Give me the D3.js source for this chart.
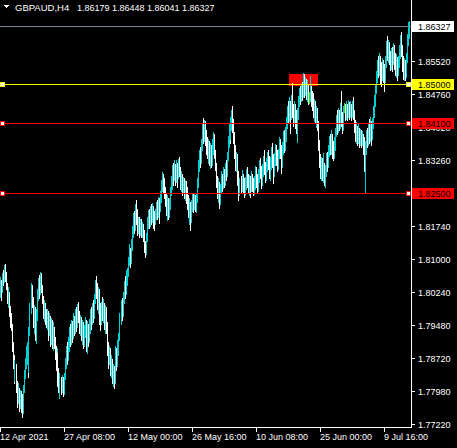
<!DOCTYPE html>
<html><head><meta charset="utf-8">
<script src="https://cdn.jsdelivr.net/npm/d3@7"></script>
<style>html,body{margin:0;padding:0;background:#000;overflow:hidden}svg{display:block}</style>
</head><body>
<svg id="c" width="457" height="448"></svg>
<script>
const symbolTitle = "GBPAUD,H4";
const titleOHLC = ["1.86179", "1.86448", "1.86041", "1.86327"];
const firstOpen = 1.8030;
const closes = [
1.8045,1.8030,1.8060,1.8052,1.8078,1.8062,1.8040,1.8010,1.8020,1.7985,
1.7960,1.7945,1.7900,1.7870,1.7835,1.7850,1.7810,1.7780,1.7795,1.7770,
1.7790,1.7765,1.7752,1.7800,1.7835,1.7860,1.7885,1.7895,1.7845,1.7930,
1.7985,1.8030,1.8000,1.7960,1.7985,1.7950,1.7975,1.8020,1.8040,1.8025,
1.8055,1.8035,1.8005,1.7980,1.7992,1.7965,1.7950,1.7975,1.7940,1.7960,
1.7935,1.7955,1.7920,1.7940,1.7905,1.7890,1.7860,1.7880,1.7835,1.7810,
1.7825,1.7805,1.7820,1.7800,1.7830,1.7860,1.7890,1.7875,1.7905,1.7930,
1.7915,1.7945,1.7930,1.7960,1.7940,1.7970,1.7955,1.7985,1.7970,1.7945,
1.7960,1.7930,1.7950,1.7915,1.7935,1.7955,1.7925,1.7945,1.7920,1.7950,
1.7975,1.7960,1.7990,1.7975,1.8010,1.8040,1.8025,1.8000,1.8020,1.7985,
1.7960,1.7990,1.7975,1.7995,1.7960,1.7980,1.7945,1.7900,1.7870,1.7885,
1.7850,1.7865,1.7830,1.7845,1.7820,1.7860,1.7885,1.7860,1.7900,1.7925,
1.7960,1.7990,1.7975,1.8010,1.8040,1.8025,1.8055,1.8070,1.8095,1.8120,
1.8095,1.8130,1.8160,1.8190,1.8175,1.8210,1.8195,1.8170,1.8185,1.8165,
1.8180,1.8160,1.8175,1.8155,1.8130,1.8115,1.8150,1.8180,1.8200,1.8185,
1.8205,1.8190,1.8210,1.8195,1.8180,1.8200,1.8220,1.8205,1.8225,1.8215,
1.8240,1.8265,1.8285,1.8270,1.8255,1.8235,1.8215,1.8230,1.8205,1.8225,
1.8255,1.8280,1.8300,1.8285,1.8305,1.8290,1.8310,1.8295,1.8315,1.8300,
1.8275,1.8290,1.8265,1.8280,1.8255,1.8270,1.8250,1.8235,1.8210,1.8225,
1.8190,1.8220,1.8240,1.8225,1.8240,1.8220,1.8235,1.8270,1.8310,1.8340,
1.8325,1.8360,1.8395,1.8380,1.8405,1.8385,1.8360,1.8345,1.8365,1.8330,
1.8350,1.8325,1.8360,1.8380,1.8345,1.8310,1.8280,1.8255,1.8270,1.8235,
1.8260,1.8285,1.8270,1.8295,1.8280,1.8305,1.8295,1.8330,1.8365,1.8395,
1.8380,1.8410,1.8430,1.8405,1.8380,1.8350,1.8320,1.8335,1.8290,1.8255,
1.8270,1.8260,1.8285,1.8270,1.8255,1.8275,1.8295,1.8280,1.8265,1.8280,
1.8260,1.8285,1.8270,1.8255,1.8275,1.8300,1.8285,1.8265,1.8290,1.8315,
1.8300,1.8280,1.8305,1.8325,1.8310,1.8290,1.8315,1.8335,1.8320,1.8300,
1.8320,1.8340,1.8325,1.8305,1.8330,1.8350,1.8335,1.8315,1.8340,1.8365,
1.8345,1.8325,1.8355,1.8380,1.8360,1.8385,1.8410,1.8440,1.8425,1.8450,
1.8430,1.8460,1.8440,1.8420,1.8445,1.8430,1.8400,1.8430,1.8460,1.8480,
1.8465,1.8490,1.8475,1.8500,1.8485,1.8505,1.8480,1.8495,1.8470,1.8470,
1.8490,1.8465,1.8455,1.8440,1.8455,1.8425,1.8440,1.8410,1.8370,1.8330,
1.8300,1.8320,1.8295,1.8310,1.8285,1.8300,1.8330,1.8315,1.8345,1.8370,
1.8355,1.8375,1.8355,1.8340,1.8365,1.8390,1.8415,1.8400,1.8425,1.8410,
1.8435,1.8420,1.8400,1.8445,1.8445,1.8425,1.8445,1.8430,1.8450,1.8435,
1.8448,1.8430,1.8450,1.8430,1.8405,1.8385,1.8400,1.8375,1.8395,1.8370,
1.8385,1.8365,1.8380,1.8360,1.8330,1.8360,1.8385,1.8370,1.8395,1.8380,
1.8405,1.8390,1.8410,1.8440,1.8465,1.8490,1.8520,1.8545,1.8530,1.8555,
1.8535,1.8520,1.8545,1.8530,1.8510,1.8550,1.8585,1.8570,1.8590,1.8565,
1.8545,1.8570,1.8555,1.8580,1.8560,1.8535,1.8555,1.8530,1.8550,1.8575,
1.8600,1.8580,1.8550,1.8530,1.8545,1.8525,1.8560,1.8600,1.8618,1.86327];
const highs = [
1.8058,1.8052,1.8068,1.8075,1.8085,1.8089,1.8070,1.8045,1.8036,1.8025,
1.7992,1.7975,1.7950,1.7910,1.7880,1.7868,1.7860,1.7820,1.7815,1.7805,
1.7800,1.7798,1.7790,1.7812,1.7845,1.7872,1.7900,1.7910,1.7921,1.7945,
1.8000,1.8045,1.8040,1.8012,1.7995,1.7990,1.7985,1.8030,1.8055,1.8062,
1.8070,1.8068,1.8040,1.8015,1.8005,1.8000,1.7985,1.7985,1.7980,1.7976,
1.7970,1.7965,1.7960,1.7955,1.7945,1.7921,1.7900,1.7895,1.7885,1.7850,
1.7839,1.7830,1.7835,1.7830,1.7839,1.7872,1.7900,1.7910,1.7921,1.7945,
1.7950,1.7960,1.7958,1.7975,1.7970,1.7985,1.7990,1.7996,1.8001,1.7980,
1.7972,1.7967,1.7960,1.7955,1.7948,1.7967,1.7960,1.7958,1.7950,1.7962,
1.7985,1.7990,1.8000,1.8005,1.8020,1.8052,1.8061,1.8045,1.8035,1.8030,
1.8000,1.8002,1.8013,1.8008,1.8000,1.7995,1.7990,1.7955,1.7910,1.7900,
1.7895,1.7880,1.7870,1.7860,1.7855,1.7872,1.7900,1.7895,1.7915,1.7930,
1.7975,1.8005,1.8010,1.8025,1.8050,1.8060,1.8074,1.8080,1.8105,1.8135,
1.8125,1.8145,1.8175,1.8205,1.8210,1.8225,1.8235,1.8215,1.8196,1.8195,
1.8192,1.8190,1.8185,1.8180,1.8165,1.8140,1.8160,1.8195,1.8212,1.8215,
1.8220,1.8225,1.8228,1.8220,1.8210,1.8215,1.8230,1.8235,1.8241,1.8238,
1.8255,1.8280,1.8299,1.8295,1.8285,1.8264,1.8250,1.8245,1.8240,1.8238,
1.8265,1.8290,1.8315,1.8320,1.8325,1.8318,1.8325,1.8320,1.8328,1.8333,
1.8310,1.8300,1.8295,1.8287,1.8285,1.8280,1.8278,1.8264,1.8245,1.8240,
1.8230,1.8235,1.8251,1.8248,1.8250,1.8245,1.8251,1.8285,1.8325,1.8350,
1.8355,1.8375,1.8410,1.8422,1.8418,1.8415,1.8395,1.8379,1.8375,1.8370,
1.8365,1.8360,1.8375,1.8390,1.8385,1.8350,1.8320,1.8290,1.8285,1.8275,
1.8272,1.8300,1.8295,1.8310,1.8305,1.8320,1.8326,1.8345,1.8380,1.8410,
1.8415,1.8425,1.8440,1.8450,1.8420,1.8390,1.8360,1.8345,1.8340,1.8300,
1.8285,1.8290,1.8303,1.8295,1.8285,1.8288,1.8305,1.8310,1.8295,1.8292,
1.8290,1.8300,1.8295,1.8285,1.8290,1.8312,1.8310,1.8295,1.8305,1.8325,
1.8330,1.8312,1.8318,1.8335,1.8349,1.8322,1.8330,1.8345,1.8350,1.8335,
1.8332,1.8355,1.8365,1.8340,1.8342,1.8362,1.8360,1.8348,1.8352,1.8378,
1.8375,1.8360,1.8368,1.8392,1.8395,1.8402,1.8425,1.8450,1.8460,1.8470,
1.8462,1.8475,1.8502,1.8455,1.8460,1.8455,1.8440,1.8445,1.8472,1.8490,
1.8495,1.8500,1.8505,1.8525,1.8522,1.8516,1.8512,1.8508,1.8500,1.8481,
1.8518,1.8495,1.8485,1.8479,1.8465,1.8460,1.8450,1.8445,1.8415,1.8372,
1.8340,1.8332,1.8330,1.8342,1.8320,1.8315,1.8342,1.8345,1.8360,1.8382,
1.8385,1.8395,1.8385,1.8370,1.8378,1.8400,1.8430,1.8440,1.8445,1.8440,
1.8457,1.8484,1.8435,1.8450,1.8457,1.8455,1.8460,1.8455,1.8463,1.8458,
1.8460,1.8455,1.8462,1.8470,1.8440,1.8418,1.8412,1.8405,1.8408,1.8400,
1.8398,1.8395,1.8392,1.8385,1.8379,1.8370,1.8395,1.8400,1.8410,1.8420,
1.8425,1.8415,1.8422,1.8450,1.8475,1.8500,1.8530,1.8555,1.8565,1.8571,
1.8565,1.8550,1.8560,1.8555,1.8545,1.8565,1.8598,1.8610,1.8600,1.8595,
1.8575,1.8582,1.8585,1.8594,1.8590,1.8570,1.8568,1.8562,1.8565,1.8590,
1.8612,1.8619,1.8590,1.8565,1.8560,1.8555,1.8571,1.8615,1.8642,1.86448];
const lows = [
1.8012,1.8006,1.8025,1.8040,1.8048,1.8050,1.8030,1.8000,1.7990,1.7970,
1.7945,1.7937,1.7890,1.7850,1.7816,1.7820,1.7795,1.7760,1.7770,1.7752,
1.7758,1.7750,1.7738,1.7748,1.7795,1.7828,1.7850,1.7860,1.7830,1.7840,
1.7925,1.7975,1.7990,1.7945,1.7930,1.7915,1.7907,1.7960,1.8005,1.8010,
1.8020,1.8025,1.7999,1.7965,1.7958,1.7950,1.7944,1.7940,1.7915,1.7925,
1.7900,1.7905,1.7895,1.7891,1.7895,1.7870,1.7845,1.7850,1.7810,1.7795,
1.7782,1.7790,1.7795,1.7785,1.7790,1.7825,1.7850,1.7860,1.7868,1.7890,
1.7900,1.7905,1.7910,1.7918,1.7925,1.7930,1.7935,1.7945,1.7955,1.7930,
1.7925,1.7915,1.7905,1.7895,1.7900,1.7920,1.7890,1.7884,1.7900,1.7910,
1.7930,1.7940,1.7950,1.7955,1.7965,1.8000,1.8010,1.7985,1.7975,1.7950,
1.7937,1.7950,1.7960,1.7955,1.7940,1.7930,1.7930,1.7880,1.7850,1.7860,
1.7835,1.7830,1.7815,1.7810,1.7804,1.7816,1.7850,1.7845,1.7855,1.7880,
1.7915,1.7950,1.7960,1.7970,1.8000,1.8010,1.8020,1.8040,1.8060,1.8085,
1.8081,1.8090,1.8120,1.8150,1.8160,1.8165,1.8180,1.8155,1.8160,1.8150,
1.8155,1.8150,1.8150,1.8140,1.8115,1.8104,1.8110,1.8140,1.8170,1.8170,
1.8175,1.8180,1.8185,1.8170,1.8166,1.8180,1.8190,1.8190,1.8195,1.8182,
1.8210,1.8230,1.8255,1.8250,1.8240,1.8220,1.8200,1.8189,1.8190,1.8195,
1.8215,1.8245,1.8260,1.8270,1.8280,1.8270,1.8275,1.8265,1.8285,1.8290,
1.8260,1.8255,1.8245,1.8250,1.8240,1.8235,1.8228,1.8215,1.8195,1.8180,
1.8166,1.8185,1.8210,1.8207,1.8215,1.8210,1.8207,1.8230,1.8265,1.8300,
1.8310,1.8320,1.8350,1.8365,1.8370,1.8360,1.8340,1.8330,1.8320,1.8315,
1.8308,1.8310,1.8315,1.8340,1.8330,1.8303,1.8265,1.8240,1.8230,1.8216,
1.8225,1.8250,1.8255,1.8262,1.8265,1.8270,1.8280,1.8290,1.8325,1.8355,
1.8365,1.8375,1.8395,1.8390,1.8365,1.8330,1.8303,1.8300,1.8270,1.8235,
1.8245,1.8250,1.8255,1.8250,1.8241,1.8245,1.8260,1.8265,1.8250,1.8245,
1.8241,1.8255,1.8255,1.8245,1.8248,1.8260,1.8265,1.8251,1.8255,1.8275,
1.8285,1.8262,1.8270,1.8290,1.8295,1.8275,1.8280,1.8300,1.8305,1.8285,
1.8280,1.8305,1.8310,1.8273,1.8290,1.8315,1.8315,1.8300,1.8305,1.8330,
1.8330,1.8296,1.8310,1.8340,1.8345,1.8350,1.8370,1.8400,1.8410,1.8415,
1.8388,1.8420,1.8425,1.8405,1.8410,1.8400,1.8388,1.8368,1.8420,1.8450,
1.8455,1.8460,1.8463,1.8470,1.8470,1.8475,1.8465,1.8460,1.8455,1.8456,
1.8460,1.8450,1.8440,1.8425,1.8415,1.8410,1.8402,1.8395,1.8350,1.8310,
1.8285,1.8280,1.8280,1.8275,1.8270,1.8264,1.8290,1.8300,1.8310,1.8335,
1.8340,1.8340,1.8330,1.8326,1.8330,1.8350,1.8380,1.8385,1.8390,1.8395,
1.8400,1.8405,1.8388,1.8395,1.8436,1.8418,1.8420,1.8418,1.8425,1.8420,
1.8425,1.8418,1.8425,1.8420,1.8390,1.8370,1.8365,1.8360,1.8365,1.8356,
1.8360,1.8356,1.8360,1.8340,1.8300,1.8253,1.8340,1.8356,1.8360,1.8365,
1.8370,1.8360,1.8375,1.8400,1.8425,1.8450,1.8480,1.8505,1.8515,1.8520,
1.8500,1.8495,1.8510,1.8505,1.8484,1.8505,1.8540,1.8555,1.8550,1.8545,
1.8532,1.8535,1.8530,1.8545,1.8535,1.8520,1.8515,1.8509,1.8520,1.8540,
1.8560,1.8565,1.8530,1.8512,1.8509,1.8510,1.8515,1.8550,1.8590,1.86041];
const priceTicks = [1.77220,1.77980,1.78720,1.79480,1.80240,1.81000,1.81740,1.82500,1.83260,1.84020,1.84760,1.85520];
const dateTickBars = [0, 64, 128, 192, 256, 320, 384];
const dateTickLabels = ["12 Apr 2021","27 Apr 08:00","12 May 00:00","26 May 16:00","10 Jun 08:00","25 Jun 00:00","9 Jul 16:00"];
const bidPrice = 1.86327;
const levelPrices = [1.85000, 1.84100, 1.82500];
const levelColors = ["#ffff00", "#ff0000", "#ff0000"];
const zoneBars = [289, 318];
const zonePrices = [1.8523, 1.8496];

const svg = d3.select("#c").attr("shape-rendering","crispEdges");
const W = 457, H = 448, plotR = 411, plotB = 427;
const FONT = "Liberation Sans, Arial, sans-serif";
svg.append("rect").attr("width",W).attr("height",H).attr("fill","#000");

const x = d3.scaleLinear().domain([0, closes.length]).range([0, closes.length]);
const y = d3.scaleLinear().domain([1.77220, bidPrice]).range([424, 26]);
const py = v => Math.round(y(v));

const bars = closes.map((c,i)=>({i, o: i===0?firstOpen:closes[i-1], c, h: highs[i], l: lows[i]}));

const gPlot = svg.append("g");
gPlot.append("rect")
  .attr("x", x(zoneBars[0])).attr("width", x(zoneBars[1]) - x(zoneBars[0]))
  .attr("y", py(zonePrices[0])).attr("height", py(zonePrices[1]) - py(zonePrices[0]))
  .attr("fill","#ff0000");

gPlot.selectAll("rect.bar").data(bars).join("rect").attr("class","bar")
  .attr("x", d=>Math.floor(x(d.i))).attr("width",1)
  .attr("y", d=>py(Math.max(d.h,d.o,d.c)))
  .attr("height", d=>Math.max(1, py(Math.min(d.l,d.o,d.c)) - py(Math.max(d.h,d.o,d.c)) + 1))
  .attr("fill", d=> d.c > d.o ? "#00ced1" : (d.c < d.o ? "#ffffff" : "#00ff00"));

svg.append("line").attr("x1",0).attr("x2",plotR).attr("y1",py(bidPrice)+0.5).attr("y2",py(bidPrice)+0.5)
  .attr("stroke","#778899").attr("stroke-width",1);

levelPrices.forEach((p,k)=>{
  const yy = py(p)+0.5;
  svg.append("line").attr("x1",0).attr("x2",plotR).attr("y1",yy).attr("y2",yy).attr("stroke",levelColors[k]).attr("stroke-width",1);
  [0.5, 406.5].forEach(sx=>{
    svg.append("rect").attr("x",sx).attr("y",yy-2.5).attr("width",4).attr("height",4)
      .attr("fill","#fff").attr("stroke",levelColors[k]).attr("stroke-width",1);
  });
});

svg.append("line").attr("x1",plotR+0.5).attr("x2",plotR+0.5).attr("y1",0).attr("y2",plotB+1).attr("stroke","#fff");
svg.append("line").attr("x1",0).attr("x2",plotR+1).attr("y1",plotB+0.5).attr("y2",plotB+0.5).attr("stroke","#fff");

const gY = svg.append("g");
priceTicks.forEach(p=>{
  const yy = py(p);
  gY.append("line").attr("x1",plotR+1).attr("x2",plotR+4).attr("y1",yy+0.5).attr("y2",yy+0.5).attr("stroke","#fff");
  gY.append("text").attr("x",418).attr("y",yy+3.5).attr("fill","#fff")
    .attr("font-family",FONT).attr("font-size","9px")
    .text(d3.format(".5f")(p));
});

dateTickBars.forEach((b,k)=>{
  const xx = Math.floor(x(b)) + 0.5;
  svg.append("line").attr("x1",xx).attr("x2",xx).attr("y1",plotB+1).attr("y2",plotB+5).attr("stroke","#fff");
  svg.append("text").attr("x",xx-0.5).attr("y",439.5).attr("fill","#fff")
    .attr("font-family",FONT).attr("font-size","9px")
    .text(dateTickLabels[k]);
});

function priceBox(p, bg, fg){
  const yy = py(p);
  svg.append("rect").attr("x",plotR+1).attr("y",yy-5).attr("width",42).attr("height",11).attr("fill",bg);
  svg.append("text").attr("x",418).attr("y",yy+3.5).attr("fill",fg)
    .attr("font-family",FONT).attr("font-size","9px")
    .text(d3.format(".5f")(p));
}
levelPrices.forEach((p,k)=>priceBox(p, levelColors[k], "#000"));
priceBox(bidPrice, "#ffffff", "#000");

svg.append("path").attr("d","M3,5 L9,5 L6,8 Z").attr("fill","#fff");
svg.append("text").attr("x",15).attr("y",11).attr("fill","#fff")
  .attr("font-family",FONT).attr("font-size","9.5px").text(symbolTitle);
const titleX = [77, 112, 147, 182];
titleOHLC.forEach((t,k)=>{
  svg.append("text").attr("x",titleX[k]).attr("y",11).attr("fill","#fff")
    .attr("font-family",FONT).attr("font-size","9px").text(t);
});
</script>
</body></html>
